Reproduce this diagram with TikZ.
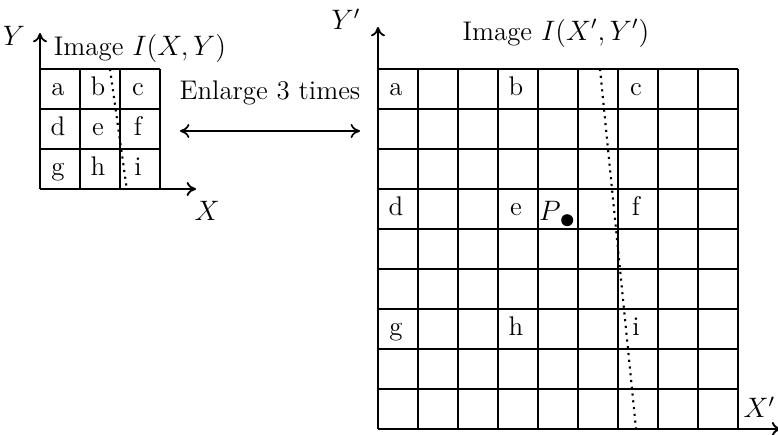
\documentclass[tikz,border=0pt]{standalone}
\usepackage{tikz}
\usetikzlibrary{arrows.meta}
\tikzset{
  cellline/.style={black, line width=0.8pt},
  axisline/.style={-{To[length=4pt,width=6pt]}, black, line width=0.8pt},
  twoway/.style={{To[length=4pt,width=6pt]}-{To[length=4pt,width=6pt]}, black, line width=0.7pt},
  cutline/.style={black, dotted, line width=0.9pt},
  letter/.style={inner sep=0pt, text height=1.5ex, text depth=0.25ex},
}

\begin{document}
\begin{tikzpicture}[x=0.6cm,y=0.6cm,font=\fontsize{11.5}{14}\selectfont]
  \useasboundingbox (-9.45,-0.15) rectangle (10,10.725);
  % small image
  \begin{scope}[shift={(-8.45,6)}]
    \draw[cellline, step=1] (0,0) grid (3,3);
    \foreach \t [count=\k from 0] in {a,b,c,d,e,f,g,h,i} {
      \pgfmathtruncatemacro\c{mod(\k,3)}
      \pgfmathtruncatemacro\r{div(\k,3)}
      \node[letter] (s\t) at (\c+0.45, 2.5-\r) {\t};
    }
    \coordinate (so) at (0,0);
    \coordinate (sy) at (0,3.9);
    \coordinate (sx) at (3.9,0);
    \draw[axisline] (so) -- (sy);
    \draw[axisline] (so) -- (sx);
    \draw[cutline] (1.75,3) -- (2.17,0);
    \node (ylab) at (-0.65,3.83) {$Y$};
    \node (xlab) at (4.18,-0.55) {$X$};
    \node (stitle) at (2.5,3.52) {Image $I(X,Y)$};
  \end{scope}
  % enlarge arrow
  \coordinate (la) at (-4.95,7.45);
  \coordinate (ra) at (-0.45,7.45);
  \draw[twoway] (la) -- (ra);
  \node (enl) at (-2.7,8.4) {Enlarge 3 times};
  % big image
  \draw[cellline, step=1] (0,0) grid (9,9);
  \foreach \t [count=\k from 0] in {a,b,c,d,e,f,g,h,i} {
    \pgfmathtruncatemacro\c{3*mod(\k,3)}
    \pgfmathtruncatemacro\r{3*div(\k,3)}
    \node[letter] (b\t) at (\c+0.45, 8.5-\r) {\t};
  }
  \coordinate (bo) at (0,0);
  \coordinate (by) at (0,10.05);
  \coordinate (bx) at (10.08,0);
  \draw[axisline] (bo) -- (by);
  \draw[axisline] (bo) -- (bx);
  \draw[cutline] (5.55,9) -- (6.45,0);
  \node[inner sep=1pt] (ylabb) at (-0.8,10.25) {$Y'$};
  \node[anchor=east, inner sep=1pt] (xlabb) at (10,0.55) {$X'$};
  \node (btitle) at (4.45,9.9) {Image $I(X',Y')$};
  \node (plab) at (4.3,5.45) {$P$};
  \fill (4.73,5.22) circle (0.15);
\end{tikzpicture}
\end{document}
